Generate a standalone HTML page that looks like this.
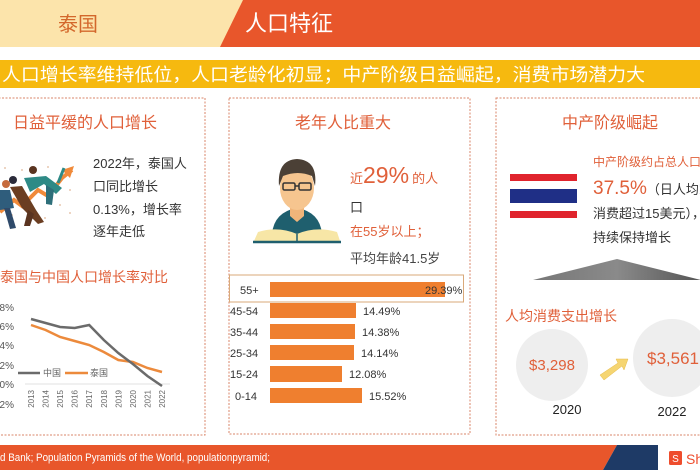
<!DOCTYPE html>
<html><head><meta charset="utf-8">
<style>
html,body{margin:0;padding:0;background:#fff;}
body{width:700px;height:470px;overflow:hidden;}
svg{display:block;font-family:"Liberation Sans","Noto Sans CJK SC",sans-serif;}
</style></head>
<body>
<svg width="700" height="470" viewBox="0 0 700 470" xmlns="http://www.w3.org/2000/svg">
<!-- header -->
<rect x="0" y="0" width="700" height="47" fill="#fce4ab"/>
<polygon points="243,0 700,0 700,47 220,47" fill="#e8562b"/>
<text x="78" y="31" font-size="20" fill="#d3672b" text-anchor="middle">泰国</text>
<text x="245" y="31" font-size="22" fill="#fff">人口特征</text>

<!-- yellow band -->
<rect x="0" y="60" width="700" height="28" fill="#f6b90f"/>
<text x="2" y="81" font-size="18" fill="#fff" textLength="643" lengthAdjust="spacingAndGlyphs">人口增长率维持低位，人口老龄化初显；中产阶级日益崛起，消费市场潜力大</text>

<!-- cards -->
<g fill="none" stroke="#d9866a" stroke-width="1" stroke-dasharray="2,1.5">
<rect x="-5" y="98" width="210" height="337"/>
<rect x="229" y="98" width="241" height="336"/>
<rect x="496" y="98" width="215" height="337"/>
</g>

<!-- card1 -->
<text x="13" y="128" font-size="16" fill="#e0603a">日益平缓的人口增长</text>
<g>
<g fill="#e8c8b0">
<circle cx="5" cy="168" r="1"/><circle cx="22" cy="170" r="1"/><circle cx="48" cy="167" r="1"/><circle cx="62" cy="172" r="1"/><circle cx="70" cy="190" r="1"/><circle cx="60" cy="205" r="1"/><circle cx="45" cy="218" r="1"/><circle cx="70" cy="213" r="1"/><circle cx="30" cy="222" r="1"/><circle cx="12" cy="215" r="1"/>
</g>
<polyline points="0,212 14,200 22,206 38,190 48,196 62,178 72,170" fill="none" stroke="#f08a3a" stroke-width="4"/>
<polygon points="62,170 74,166 70,178" fill="#f08a3a"/>
<circle cx="6" cy="184" r="4" fill="#c66b3d"/>
<polygon points="0,190 10,190 14,208 0,210" fill="#2f5d7c"/>
<polygon points="4,208 10,208 16,228 10,229" fill="#2f4a6a"/>
<circle cx="13" cy="180" r="4" fill="#2b2b3a"/>
<polygon points="10,187 22,186 36,210 44,222 38,224 22,208" fill="#6b3e22"/>
<polygon points="28,210 34,214 30,226 24,226" fill="#5a3420"/>
<circle cx="33" cy="170" r="4" fill="#5a3420"/>
<polygon points="24,178 46,176 62,188 56,194 44,184 30,192" fill="#2e8a86"/>
<polygon points="46,185 54,190 52,205 46,204" fill="#2e6f7a"/>
<line x1="58" y1="183" x2="64" y2="168" stroke="#2e8a86" stroke-width="3"/>
</g>
<g font-size="13" fill="#333">
<text x="93" y="168">2022年，泰国人</text>
<text x="93" y="191">口同比增长</text>
<text x="93" y="214">0.13%，增长率</text>
<text x="93" y="236">逐年走低</text>
</g>
<text x="0" y="282" font-size="14" fill="#e0603a">泰国与中国人口增长率对比</text>
<!-- line chart -->
<g font-size="10" fill="#555" text-anchor="end">
<text x="14" y="311">8%</text>
<text x="14" y="330">6%</text>
<text x="14" y="349">4%</text>
<text x="14" y="369">2%</text>
<text x="14" y="388">0%</text>
<text x="14" y="408">2%</text>
</g>
<line x1="25" y1="384" x2="170" y2="384" stroke="#e2e2e2" stroke-width="1"/>
<polyline points="31,325 45.6,330 60.1,337 74.7,341 89.2,345 103.8,352 118.3,360 132.9,362 147.4,368 162,372" fill="none" stroke="#ec8a3c" stroke-width="2.5"/>
<polyline points="31,319 45.6,323 60.1,327 74.7,328 89.2,325 103.8,340 118.3,353 132.9,364 147.4,376 162,386" fill="none" stroke="#6b6b6b" stroke-width="2.5"/>
<line x1="18" y1="373" x2="40" y2="373" stroke="#6b6b6b" stroke-width="2.5"/>
<text x="43" y="376" font-size="9" fill="#666">中国</text>
<line x1="65" y1="373" x2="88" y2="373" stroke="#ec8a3c" stroke-width="2.5"/>
<text x="90" y="376" font-size="9" fill="#666">泰国</text>
<g font-size="8" fill="#666" text-anchor="end">
<text transform="translate(34,390) rotate(-90)">2013</text>
<text transform="translate(48.6,390) rotate(-90)">2014</text>
<text transform="translate(63.1,390) rotate(-90)">2015</text>
<text transform="translate(77.7,390) rotate(-90)">2016</text>
<text transform="translate(92.2,390) rotate(-90)">2017</text>
<text transform="translate(106.8,390) rotate(-90)">2018</text>
<text transform="translate(121.3,390) rotate(-90)">2019</text>
<text transform="translate(135.9,390) rotate(-90)">2020</text>
<text transform="translate(150.4,390) rotate(-90)">2021</text>
<text transform="translate(165,390) rotate(-90)">2022</text>
</g>

<!-- card2 -->
<text x="343" y="128" font-size="16" fill="#e0603a" text-anchor="middle">老年人比重大</text>
<g>
<path d="M272,234 Q274,212 297,208 Q320,212 322,234 Z" fill="#1f5f6e"/>
<polygon points="290,206 304,206 304,216 297,222 290,216" fill="#f0b57a"/>
<ellipse cx="297" cy="188" rx="17" ry="22" fill="#f6c58f"/>
<path d="M279,186 Q277,160 297,159 Q318,160 315,186 L312,176 Q298,170 283,176 Z" fill="#4b4036"/>
<rect x="283" y="183" width="12" height="7" rx="1.5" fill="none" stroke="#333" stroke-width="1.5"/>
<rect x="299" y="183" width="12" height="7" rx="1.5" fill="none" stroke="#333" stroke-width="1.5"/>
<line x1="295" y1="186" x2="299" y2="186" stroke="#333" stroke-width="1.5"/>
<path d="M258,232 Q278,226 297,234 Q316,226 337,232 L340,241 L254,241 Z" fill="#f7e6a6"/>
<line x1="253" y1="242" x2="341" y2="242" stroke="#1f5f6e" stroke-width="2.5"/>
<line x1="297" y1="234" x2="297" y2="243" stroke="#1f5f6e" stroke-width="1.5"/>
</g>
<text x="350" y="183" fill="#e0603a"><tspan font-size="13">近</tspan><tspan font-size="23">29%</tspan><tspan font-size="13" dx="3">的人</tspan></text>
<text x="350" y="212" font-size="13" fill="#333">口</text>
<text x="350" y="236" font-size="13" fill="#e0603a">在55岁以上；</text>
<text x="350" y="263" font-size="13" fill="#444">平均年龄41.5岁</text>
<!-- bar chart -->
<rect x="229.5" y="275" width="234" height="27" fill="none" stroke="#d9a97a" stroke-width="1"/>
<g fill="#ef7f2f">
<rect x="270" y="282" width="175" height="15"/>
<rect x="270" y="303" width="86" height="15"/>
<rect x="270" y="324" width="85" height="15"/>
<rect x="270" y="345" width="84" height="15"/>
<rect x="270" y="366" width="72" height="16"/>
<rect x="270" y="388" width="92" height="15"/>
</g>
<g font-size="11" fill="#333">
<text x="240" y="294">55+</text>
<text x="230" y="315">45-54</text>
<text x="230" y="336">35-44</text>
<text x="230" y="357">25-34</text>
<text x="230" y="378">15-24</text>
<text x="235" y="400">0-14</text>
<text x="425" y="294">29.39%</text>
<text x="363" y="315">14.49%</text>
<text x="362" y="336">14.38%</text>
<text x="361" y="357">14.14%</text>
<text x="349" y="378">12.08%</text>
<text x="369" y="400">15.52%</text>
</g>

<!-- card3 -->
<text x="610" y="128" font-size="16" fill="#e0603a" text-anchor="middle">中产阶级崛起</text>
<rect x="510" y="174" width="67" height="7" fill="#e0242d"/>
<rect x="510" y="189" width="67" height="14" fill="#1f2f86"/>
<rect x="510" y="211" width="67" height="7" fill="#e0242d"/>
<text x="593" y="166" font-size="12" fill="#e0603a">中产阶级约占总人口</text>
<text x="593" y="194" fill="#e0603a"><tspan font-size="19">37.5%</tspan><tspan font-size="13" fill="#333">（日人均家庭</tspan></text>
<text x="593" y="218" font-size="13" fill="#333">消费超过15美元），</text>
<text x="593" y="242" font-size="13" fill="#333">持续保持增长</text>
<defs><linearGradient id="tg" x1="0" y1="0" x2="1" y2="0"><stop offset="0" stop-color="#777"/><stop offset="0.5" stop-color="#8a8a8a"/><stop offset="1" stop-color="#555"/></linearGradient></defs>
<polygon points="617,259 533,280 701,280" fill="url(#tg)"/>
<text x="505" y="321" font-size="14" fill="#e0603a">人均消费支出增长</text>
<circle cx="552" cy="365" r="36" fill="#eeeeee"/>
<circle cx="672" cy="358" r="39" fill="#eeeeee"/>
<text x="552" y="370" font-size="15" fill="#e0603a" text-anchor="middle">$3,298</text>
<text x="647" y="364" font-size="17" fill="#e0603a">$3,561</text>
<polygon points="600,375 618,363 616,359 628,359 624,370 622,366 604,380" fill="#f5d572" stroke="#e7bb4a" stroke-width="0.5"/>
<text x="567" y="414" font-size="13" fill="#222" text-anchor="middle">2020</text>
<text x="672" y="416" font-size="13" fill="#222" text-anchor="middle">2022</text>

<!-- footer -->
<rect x="0" y="445" width="700" height="25" fill="#fff"/>
<polygon points="0,445 617,445 603,470 0,470" fill="#e8562b"/>
<polygon points="617,445 658,445 658,470 603,470" fill="#1e3a66"/>
<text x="0" y="461" font-size="11" fill="#fff" textLength="270" lengthAdjust="spacingAndGlyphs">d Bank; Population Pyramids of the World, populationpyramid;</text>
<rect x="669" y="451" width="13" height="14" rx="1.5" fill="#ee4d2d"/>
<text x="675.5" y="462" font-size="10" fill="#fff" text-anchor="middle">S</text>
<text x="686" y="464" font-size="14" fill="#ee4d2d">Sh</text>
</svg>
</body></html>
